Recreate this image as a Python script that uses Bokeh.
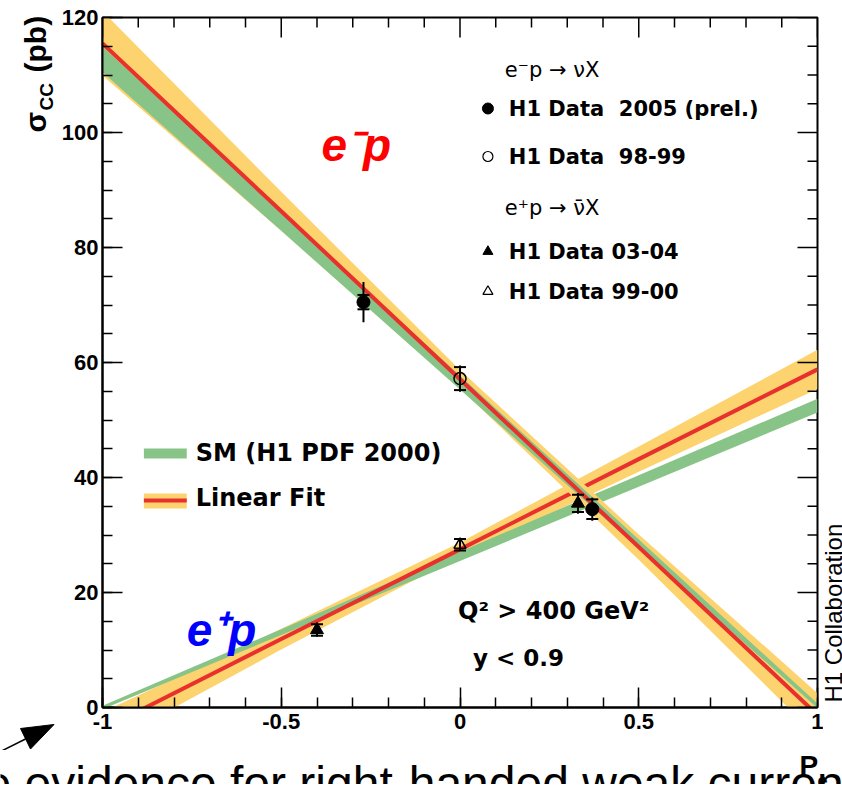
import math
from bokeh.plotting import figure
from bokeh.layouts import column, row
from bokeh.models import Range1d, FixedTicker, Label
from bokeh.embed import file_html
from bokeh.resources import INLINE

# ---------------- data ----------------
pe_grid = [-1.0, -0.5, 0.0, 0.5, 1.0]

# e- p : linear fit (red line + yellow band) and SM (green band)
em_fit = [115.5, 86.3, 57.1, 27.9, -1.3]
em_fit_lo = [109.9, 82.9, 55.5, 25.7, -5.1]
em_fit_hi = [121.1, 89.7, 58.7, 30.1, 2.5]
em_sm_lo = [110.5, 82.9, 55.3, 27.6, -0.1]
em_sm_hi = [114.9, 86.3, 57.7, 29.2, 0.7]

# e+ p : linear fit and SM
ep_fit = [-3.8, 11.9, 27.5, 43.2, 58.8]
ep_fit_lo = [-6.8, 10.1, 26.3, 41.0, 55.4]
ep_fit_hi = [-0.8, 13.7, 28.7, 45.4, 62.2]
ep_sm_lo = [-0.3, 12.6, 25.5, 38.4, 51.3]
ep_sm_hi = [0.3, 13.6, 27.1, 40.4, 53.7]

# measurements: Pe, sigma, stat error, total error
d2005_pe = [-0.27, 0.37]
d2005_xs = [70.5, 34.5]
d2005_stat = [1.25, 1.7]
d2005_tot = [3.5, 2.0]

d9899_pe = [0.0]
d9899_xs = [57.2]
d9899_stat = [2.0]
d9899_tot = [2.3]

d0304_pe = [-0.40, 0.33]
d0304_xs = [13.5, 35.5]
d0304_stat = [1.0, 1.5]
d0304_tot = [1.2, 1.8]

d9900_pe = [0.0]
d9900_xs = [28.3]
d9900_stat = [1.0]
d9900_tot = [1.1]

x_major = [-1, -0.5, 0, 0.5, 1]
x_labels = ["-1", "-0.5", "0", "0.5", "1"]
x_minor = [round(-1 + 0.1 * i, 1) for i in range(21)]
y_major = [0, 20, 40, 60, 80, 100, 120]
y_minor = [5 * i for i in range(25)]

leg_em_header = "e\u207bp \u2192 \u03bdX"
leg_ep_header = "e\u207ap \u2192 \u03bd\u0304X"
leg_labels = ["H1 Data\u00a0 2005 (prel.)", "H1 Data\u00a0 98-99", "H1 Data 03-04", "H1 Data 99-00"]
collab_text = "H1 Collaboration"
caption_text = "e evidence for right-handed weak current"

YEL = "#fdd36f"
GRN = "#88c487"
RED = "#e8302c"

# ---------------- page geometry ----------------
LEFT_W = 58          # left strip (y title, arrow)
RIGHT_X = 823        # right strip starts here ("H1 Collaboration")
TOP_H = 750          # height of the upper row
PAGE_W, PAGE_H = 842, 784
MID = 0.3465         # distance (in em) from baseline to the middle of the text box


def blank(width, height, x0, x1, y_bottom, y_top):
    f = figure(width=width, height=height, output_backend="svg", toolbar_location=None,
               x_range=Range1d(x0, x1), y_range=Range1d(y_bottom, y_top),
               x_axis_type=None, y_axis_type=None, min_border=0, frame_align=False)
    f.outline_line_color = None
    f.grid.visible = False
    f.background_fill_color = "white"
    f.border_fill_color = "white"
    return f


def put(fig, text, x, y, size, font="Liberation Sans", style="bold", color="black", angle=0.0):
    fig.add_layout(Label(x=x, y=y, text=text, text_font=font, text_font_style=style,
                         text_font_size=f"{size}px", text_color=color, text_align="left",
                         text_baseline="middle", angle=angle))


# ---------------- main plot ----------------
p = figure(width=RIGHT_X - LEFT_W, height=TOP_H, output_backend="svg", toolbar_location=None,
           x_range=Range1d(-1, 1), y_range=Range1d(0, 120), frame_align=False,
           min_border_left=100 - LEFT_W, min_border_right=RIGHT_X - 817,
           min_border_top=17, min_border_bottom=TOP_H - 707)
p.background_fill_color = "white"
p.border_fill_color = "white"
p.grid.visible = False
p.outline_line_color = "black"
p.outline_line_width = 2


def X(px):   # page pixel -> Pe (frame spans page x 100..817)
    return (px - 457.0) / 358.5


def Y(py):   # page pixel -> sigma (frame spans page y 17..707)
    return (707.0 - py) / 5.75


xt = FixedTicker(ticks=x_major, minor_ticks=x_minor)
yt = FixedTicker(ticks=y_major, minor_ticks=y_minor)
for ax in (p.xaxis[0], p.yaxis[0]):
    ax.axis_line_width = 2
    ax.axis_line_color = "black"
    ax.major_tick_in = 20
    ax.major_tick_out = 0
    ax.minor_tick_in = 10
    ax.minor_tick_out = 0
    ax.major_tick_line_width = 1.5
    ax.minor_tick_line_width = 1.5
    ax.major_label_text_font = "Liberation Sans"
    ax.major_label_text_font_style = "bold"
    ax.major_label_text_font_size = "22px"
    ax.major_label_text_color = "black"
p.xaxis.ticker = xt
p.yaxis.ticker = yt
p.xaxis.major_label_overrides = dict(zip(x_major, x_labels))
p.xaxis.major_label_standoff = 6
p.yaxis.major_label_standoff = 4

# e+ p bands
p.varea(x=pe_grid, y1=ep_fit_lo, y2=ep_fit_hi, fill_color=YEL)
p.varea(x=pe_grid, y1=ep_sm_lo, y2=ep_sm_hi, fill_color=GRN)
p.line(x=pe_grid, y=ep_fit, line_color=RED, line_width=4)
# e- p bands
p.varea(x=pe_grid, y1=em_fit_lo, y2=em_fit_hi, fill_color=YEL)
p.varea(x=pe_grid, y1=em_sm_lo, y2=em_sm_hi, fill_color=GRN)
p.line(x=pe_grid, y=em_fit, line_color=RED, line_width=4)

# ticks on the top and right frame edges (dash markers centred on the edge, outer half clipped)
x_minor_only = [v for v in x_minor if v not in x_major]
y_minor_only = [v for v in y_minor if v not in y_major]
p.scatter(x=x_major, y=[120] * len(x_major), marker="dash", angle=math.pi / 2, size=40,
          line_color="black", line_width=1.5)
p.scatter(x=x_minor_only, y=[120] * len(x_minor_only), marker="dash", angle=math.pi / 2, size=20,
          line_color="black", line_width=1.5)
p.scatter(x=[1] * len(y_major), y=y_major, marker="dash", size=40, line_color="black", line_width=1.5)
p.scatter(x=[1] * len(y_minor_only), y=y_minor_only, marker="dash", size=20,
          line_color="black", line_width=1.5)


def points(pe, xs, stat, tot, marker, filled):
    p.segment(x0=pe, x1=pe, y0=[a - b for a, b in zip(xs, tot)], y1=[a + b for a, b in zip(xs, tot)],
              line_color="black", line_width=2)
    p.scatter(x=pe + pe, y=[a - b for a, b in zip(xs, stat)] + [a + b for a, b in zip(xs, stat)],
              marker="dash", size=12, line_color="black", line_width=2)
    if filled:
        p.scatter(x=pe, y=xs, marker=marker, size=13, fill_color="black", line_color="black")
    else:
        p.scatter(x=pe, y=xs, marker=marker, size=12, fill_color=None, line_color="black", line_width=1.5)


points(d2005_pe, d2005_xs, d2005_stat, d2005_tot, "circle", True)
points(d9899_pe, d9899_xs, d9899_stat, d9899_tot, "circle", False)
points(d0304_pe, d0304_xs, d0304_stat, d0304_tot, "triangle", True)
points(d9900_pe, d9900_xs, d9900_stat, d9900_tot, "triangle", False)

# legend (top right)
p.scatter(x=[X(485)], y=[Y(108)], marker="circle", size=11, fill_color="black", line_color="black")
p.scatter(x=[X(485)], y=[Y(156)], marker="circle", size=10, fill_color=None, line_color="black", line_width=1.2)
p.scatter(x=[X(485)], y=[Y(251)], marker="triangle", size=10, fill_color="black", line_color="black")
p.scatter(x=[X(485)], y=[Y(291)], marker="triangle", size=10, fill_color=None, line_color="black", line_width=1.2)


def lab(text, px, py, size, font="DejaVu Sans", style="bold", color="black"):
    put(p, text, X(px), Y(py), size, font=font, style=style, color=color)


lab(leg_em_header, 502, 69, 21, style="normal")
lab(leg_labels[0], 506, 108, 21)
lab(leg_labels[1], 506, 156, 21)
lab(leg_ep_header, 502, 207, 21, style="normal")
lab(leg_labels[2], 506, 251, 21)
lab(leg_labels[3], 506, 291, 21)

# legend (SM / fit)
p.quad(left=[X(140)], right=[X(183)], bottom=[Y(458)], top=[Y(448)], fill_color=GRN, line_color=None)
p.quad(left=[X(140)], right=[X(183)], bottom=[Y(508)], top=[Y(493)], fill_color=YEL, line_color=None)
p.segment(x0=[X(140)], x1=[X(183)], y0=[Y(500)], y1=[Y(500)], line_color=RED, line_width=4)
lab("SM (H1 PDF 2000)", 192, 452, 24)
lab("Linear Fit", 192, 497, 24)

# annotations inside the frame (baseline given, converted to the text-box middle)
lab("e\u207bp", 318, 160 - MID * 46, 46, font="Liberation Sans", style="bold italic", color="#ff0000")
lab("e\u207ap", 183, 645 - MID * 46, 46, font="Liberation Sans", style="bold italic", color="#0000ff")
lab("Q\u00b2 > 400 GeV\u00b2", 455, 610, 24)
lab("y < 0.9", 470, 657, 23)

# ---------------- left strip: y-axis title and arrow (page coordinates) ----------------
fl = blank(LEFT_W, TOP_H, 0, LEFT_W, TOP_H, 0)
put(fl, "\u03c3", 45 - MID * 30, 132, 30, angle=math.pi / 2)
put(fl, "CC", 53 - MID * 19, 110, 19, angle=math.pi / 2)
put(fl, "(pb)", 45 - MID * 30, 72, 30, angle=math.pi / 2)
fl.segment(x0=[0], y0=[751], x1=[26], y1=[738], line_color="black", line_width=1.5)
fl.patch(x=[20, 53.5, 30], y=[728, 724, 748.5], fill_color="black", line_color="black")

# ---------------- right strip: collaboration name (page coordinates) ----------------
fr = blank(PAGE_W - RIGHT_X, TOP_H, RIGHT_X, PAGE_W, TOP_H, 0)
put(fr, collab_text, 841 - MID * 24, 702, 24, style="normal", angle=math.pi / 2)

# ---------------- bottom strip: x-axis title and slide caption (page coordinates) ----------------
fb = blank(PAGE_W, PAGE_H - TOP_H, 0, PAGE_W, PAGE_H, TOP_H)
put(fb, caption_text, -16, 800 - MID * 48, 48, style="normal")
put(fb, "P", 799, 775 - MID * 28, 28)
put(fb, "e", 817, 786 - MID * 18, 18)

layout = column(row(fl, p, fr), fb)
open("out.html", "w").write(file_html(layout, INLINE))
